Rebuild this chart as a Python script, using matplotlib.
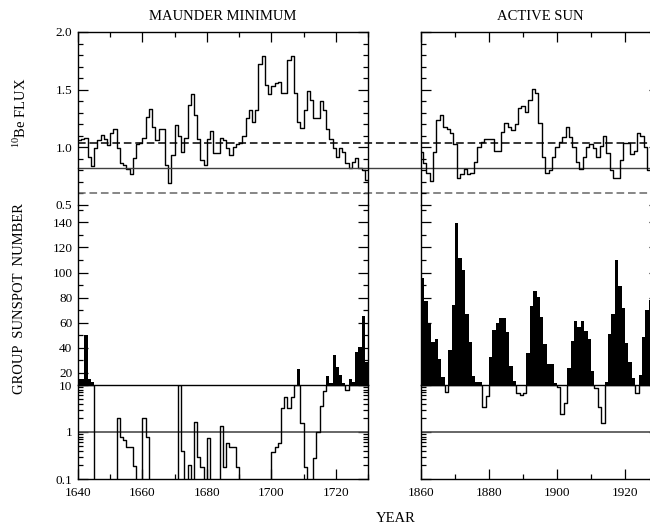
import numpy as np
import matplotlib
matplotlib.use('Agg')
import matplotlib.pyplot as plt
from matplotlib import transforms
from matplotlib.ticker import MultipleLocator, FixedLocator, LogLocator, NullFormatter, FuncFormatter

plt.rcParams['font.family'] = 'serif'
plt.rcParams['font.serif'] = ['Liberation Serif', 'DejaVu Serif']
plt.rcParams['mathtext.fontset'] = 'custom'
plt.rcParams['mathtext.rm'] = 'Liberation Serif'

# 10Be flux, Maunder Minimum (annual, starting 1640)
mm_start = 1640
be_mm = [1.06, 1.07, 1.08, 0.92, 0.84, 0.99, 1.06, 1.11, 1.07, 1.02,
         1.12, 1.16, 0.99, 0.86, 0.85, 0.81, 0.77, 0.91, 1.03, 1.04,
         1.08, 1.26, 1.33, 1.18, 1.06, 1.16, 1.16, 0.85, 0.69, 0.93,
         1.19, 1.10, 0.96, 1.08, 1.37, 1.46, 1.28, 1.07, 0.89, 0.85,
         1.07, 1.14, 0.95, 0.95, 1.08, 1.06, 0.99, 0.93, 1.00, 1.03,
         1.04, 1.10, 1.25, 1.32, 1.22, 1.32, 1.72, 1.79, 1.54, 1.46,
         1.53, 1.56, 1.57, 1.47, 1.47, 1.76, 1.79, 1.47, 1.22, 1.17,
         1.32, 1.49, 1.41, 1.25, 1.25, 1.40, 1.32, 1.16, 1.07, 0.99,
         0.92, 0.99, 0.96, 0.86, 0.82, 0.87, 0.91, 0.82, 0.80, 0.72]

# group sunspot number, Maunder Minimum (annual, starting 1640)
gsn_mm = [15, 15, 50, 15, 12, 0, 0, 0, 0, 0,
          0, 0, 2.0, 0.8, 0.68, 0.47, 0.47, 0.19, 0, 0,
          2.0, 0.8, 0, 0, 0, 0, 0, 0, 0, 0,
          0, 10, 0.39, 0, 0.2, 0, 1.66, 0.29, 0.18, 0,
          0.76, 0, 0, 0, 1.34, 0.18, 0.57, 0.47, 0.47, 0.18,
          0, 0, 0, 0, 0, 0, 0, 0, 0, 0,
          0.38, 0.47, 0.59, 3.2, 5.5, 3.2, 5.5, 10, 22.8, 1.58,
          0.18, 0, 0, 0.28, 1.0, 3.6, 7.6, 17, 11.3, 34,
          24, 18, 11.3, 8, 14.8, 12.7, 36.6, 40, 65.5, 28.7]

# 10Be flux, active sun (annual, starting 1860)
as_start = 1860
be_as = [0.96, 0.86, 0.78, 0.71, 0.96, 1.24, 1.28, 1.18, 1.16, 1.12,
         1.03, 0.73, 0.77, 0.81, 0.77, 0.78, 0.87, 1.00, 1.05, 1.07,
         1.07, 1.07, 0.97, 0.97, 1.13, 1.21, 1.18, 1.15, 1.20, 1.34,
         1.36, 1.31, 1.41, 1.51, 1.47, 1.21, 0.92, 0.78, 0.80, 0.92,
         1.00, 1.05, 1.09, 1.18, 1.09, 1.00, 0.87, 0.81, 0.92, 1.00,
         1.03, 0.99, 0.92, 1.01, 1.10, 0.95, 0.80, 0.73, 0.73, 0.89,
         1.04, 1.04, 0.94, 0.97, 1.12, 1.10, 1.00, 0.80]

# group sunspot number, active sun (annual, starting 1860)
gsn_as = [95.8, 77.2, 59.9, 44.1, 46.8, 30.8, 16.7, 7.2, 38, 74,
          139.3, 111.3, 102, 66.5, 44.7, 17.2, 12.1, 12.7, 3.4, 5.8,
          32.2, 54, 59.9, 63.9, 63.9, 52.7, 25.5, 13.2, 6.7, 6.1,
          6.9, 35.9, 73.2, 85.2, 80.7, 64.2, 42.5, 26.8, 26.8, 11.9,
          9.2, 2.4, 4.1, 23.9, 45.2, 61.2, 56.7, 61.2, 53.2, 46.5,
          21.5, 8.5, 3.45, 1.58, 12.7, 50.5, 66.8, 110, 89.2, 71.3,
          43.3, 28.7, 15.9, 6.9, 18, 48.7, 70, 78]

# reference levels on the 10Be flux scale
be_upper = 1.04
be_mid = 0.825
be_lower = 0.605


def edges(start, vals, offset=0.0):
    # step 'post' coordinates with the last step closed
    x = np.arange(len(vals) + 1) + start + offset
    y = np.append(vals, vals[-1])
    return x, y


W, H = 650, 525
fig = plt.figure(figsize=(W / 100, H / 100), dpi=100)


def box(x0, x1, y0, y1):
    return [x0 / W, 1 - y1 / H, (x1 - x0) / W, (y1 - y0) / H]


cols = [(78, 368, (1640, 1730), True), (421, 659, (1860, 1930), False)]
TL = 9.5

for xa, xb, xlim, labels in cols:
    ax_t = fig.add_axes(box(xa, xb, 32, 205))
    ax_m = fig.add_axes(box(xa, xb, 205, 385))
    ax_l = fig.add_axes(box(xa, xb, 385, 479))

    for ax in (ax_t, ax_m, ax_l):
        ax.set_xlim(*xlim)
        ax.xaxis.set_major_locator(MultipleLocator(20))
        ax.xaxis.set_minor_locator(MultipleLocator(10))
        ax.tick_params(which='both', direction='in', left=True, right=True,
                       labelleft=labels, labelsize=TL, width=0.9, pad=4)
        ax.tick_params(which='major', length=7)
        ax.tick_params(which='minor', length=3.5)
        ax.patch.set_alpha(0)
        for s in ax.spines.values():
            s.set_linewidth(1.0)

    ax_t.spines['bottom'].set_visible(False)
    ax_m.spines['top'].set_visible(False)
    ax_m.spines['bottom'].set_visible(False)
    ax_t.tick_params(axis='x', which='both', top=True, bottom=False, labelbottom=False)
    ax_m.tick_params(axis='x', which='both', top=False, bottom=False, labelbottom=False)
    ax_l.tick_params(axis='x', which='both', top=False, bottom=True, pad=5.5)

    # 10Be
    ax_t.set_ylim(0.5, 2.0)
    ax_t.yaxis.set_major_locator(MultipleLocator(0.5))
    ax_t.yaxis.set_minor_locator(MultipleLocator(0.1))
    ax_t.yaxis.set_major_formatter(FuncFormatter(lambda v, p: '%.1f' % v))

    # sunspots, linear part
    ax_m.set_ylim(10, 154)
    ax_m.yaxis.set_major_locator(FixedLocator([20, 40, 60, 80, 100, 120, 140]))
    ax_m.yaxis.set_minor_locator(MultipleLocator(10))

    # sunspots, log part
    ax_l.set_yscale('log')
    ax_l.set_ylim(0.1, 10)
    ax_l.yaxis.set_major_locator(FixedLocator([0.1, 1, 10]))
    ax_l.yaxis.set_minor_locator(LogLocator(base=10, subs=np.arange(2, 10)))
    ax_l.yaxis.set_minor_formatter(NullFormatter())
    ax_l.yaxis.set_major_formatter(FuncFormatter(lambda v, p: '%g' % v))
    ax_l.axhline(1, color='0.3', lw=1.2)

    if labels:
        x, y = edges(mm_start, be_mm)
        ax_t.step(x, y, where='post', color='black', lw=1.0)
        x, y = edges(mm_start, gsn_mm)
        ax_tl = ax_t
    else:
        x, y = edges(as_start, be_as, offset=-0.5)
        ax_t.step(x, y, where='post', color='black', lw=1.0)
        x, y = edges(as_start, gsn_as)
    ax_m.fill_between(x, 10, np.maximum(y, 10), step='post', color='black', lw=0)
    ax_l.step(x, np.clip(y, 0.02, 10), where='post', color='black', lw=1.0)

# reference lines running across both panels
tr = transforms.blended_transform_factory(fig.transFigure, ax_tl.transData)
x_span = [78 / W, 1.0]
ax_tl.plot(x_span, [be_upper] * 2, transform=tr, clip_on=False,
           color='black', lw=1.1, ls=(0, (5, 2.5)))
ax_tl.plot(x_span, [be_mid] * 2, transform=tr, clip_on=False,
           color='0.25', lw=1.0)
ax_tl.plot(x_span, [be_lower] * 2, transform=tr, clip_on=False,
           color='0.4', lw=1.1, ls=(0, (5, 2.5)))

fs = 10.5
fig.text(222.5 / W, 1 - 16.5 / H, 'MAUNDER MINIMUM', ha='center', va='center', fontsize=fs)
fig.text(540 / W, 1 - 16.5 / H, 'ACTIVE SUN', ha='center', va='center', fontsize=fs)
fig.text(20 / W, 1 - 113 / H, r'$^{10}$Be FLUX', ha='center', va='center',
         rotation=90, fontsize=fs)
fig.text(20 / W, 1 - 299 / H, 'GROUP  SUNSPOT  NUMBER', ha='center', va='center',
         rotation=90, fontsize=fs)
fig.text(396 / W, 1 - 518 / H, 'YEAR', ha='center', va='center', fontsize=fs)

fig.savefig('out.png', dpi=100)
